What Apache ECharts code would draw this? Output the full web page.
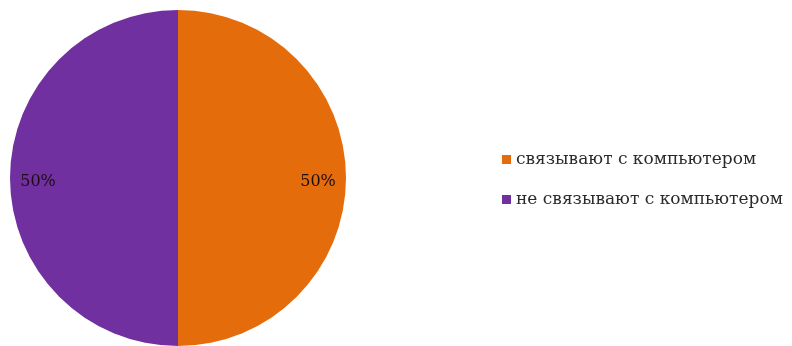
<!DOCTYPE html>
<html lang="ru">
<head>
    <meta charset="UTF-8">
    <title>Pie</title>
    <script src="https://cdn.jsdelivr.net/npm/echarts@6/dist/echarts.min.js"></script>
</head>
<body style="margin:0;background:#fff;">
    <div id="main" style="width:792px;height:346px;"></div>
    <script type="text/javascript">
        var categories = ['связывают с компьютером', 'не связывают с компьютером'];
        var values = [50, 50];
        var colors = ['#E46C0A', '#7030A0'];

        var pieData = categories.map(function (name, i) {
            return { name: name, value: values[i], itemStyle: { color: colors[i] } };
        });

        var myChart = echarts.init(document.getElementById('main'));
        var option = {
            animation: false,
            legend: {
                orient: 'vertical',
                left: 497,
                top: 146,
                itemWidth: 9,
                itemHeight: 9,
                itemGap: 23,
                icon: 'rect',
                textStyle: { fontFamily: 'DejaVu Serif', fontSize: 17, color: '#2a2a2a' },
                data: categories
            },
            series: [
                {
                    type: 'pie',
                    center: [178, 178],
                    radius: 168,
                    startAngle: 90,
                    clockwise: true,
                    label: { show: false },
                    labelLine: { show: false },
                    emphasis: { disabled: true },
                    data: pieData
                },
                {
                    // label-only ring so the percentages sit near the rim
                    type: 'pie',
                    center: [178, 178],
                    radius: [106, 168],
                    startAngle: 90,
                    clockwise: true,
                    silent: true,
                    label: {
                        show: true,
                        position: 'inside',
                        formatter: '{d}%',
                        fontFamily: 'DejaVu Serif',
                        fontSize: 16,
                        color: '#1e0c14'
                    },
                    labelLayout: { dy: 4 },
                    labelLine: { show: false },
                    emphasis: { disabled: true },
                    data: categories.map(function (name, i) {
                        return { name: name, value: values[i], itemStyle: { color: 'rgba(0,0,0,0)' } };
                    })
                }
            ]
        };
        myChart.setOption(option);
    </script>
</body>
</html>
